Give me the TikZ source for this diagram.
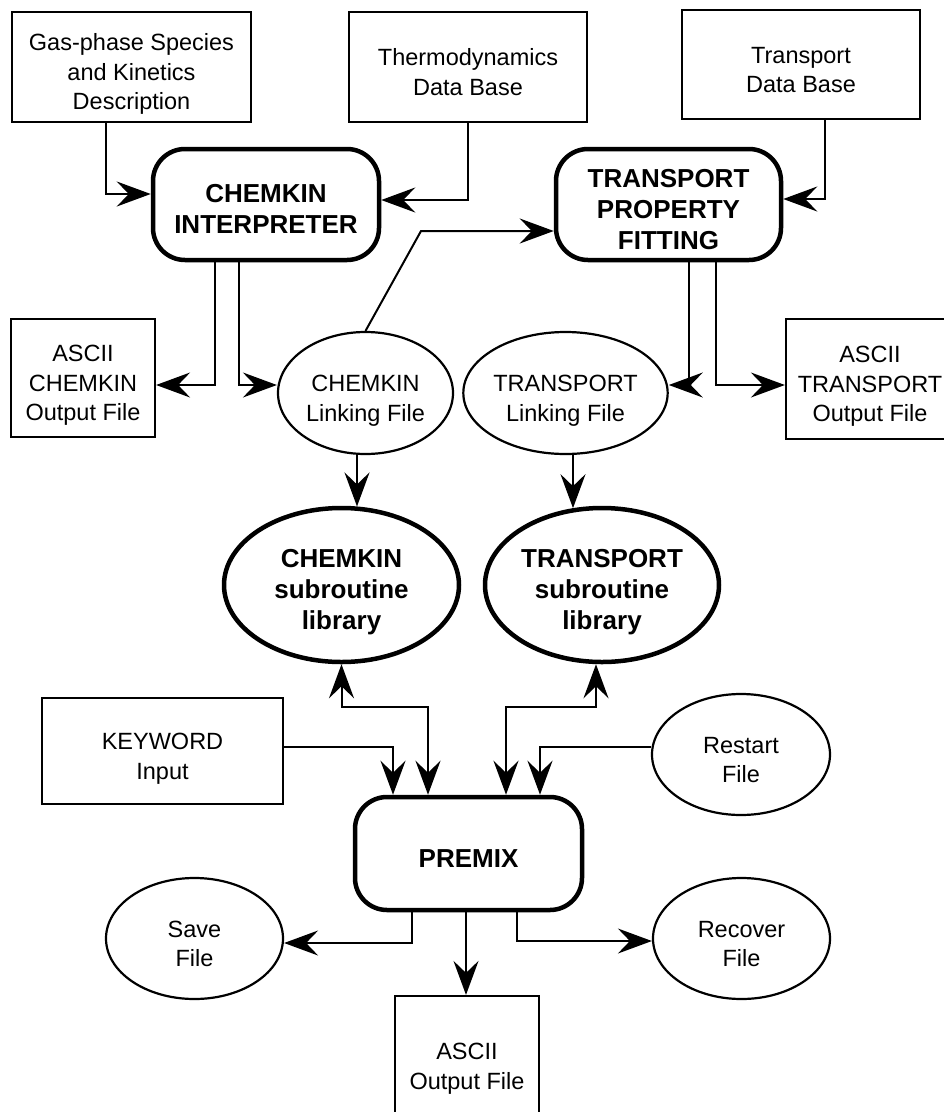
\documentclass[tikz,border=0pt]{standalone}
\usepackage{fontspec}
\setmainfont{Liberation Sans}
\usetikzlibrary{arrows.meta,shapes.geometric}
% stacked, centred lines, set a little low in their shape
\newcommand{\ntext}[1]{\raisebox{-7.5pt}[\height][\depth]{\begin{tabular}{@{}c@{}}#1\end{tabular}}}

\begin{document}
\begin{tikzpicture}[x=1pt,y=-1pt,
txt/.style={font=\fontsize{23.5}{29.5}\selectfont,inner sep=0pt},
btxt/.style={font=\fontsize{26}{31}\selectfont\bfseries,inner sep=0pt},
box/.style={txt,draw,line width=2.2pt,rectangle},
prog/.style={btxt,draw,line width=4.5pt,rounded corners=32pt},
file/.style={txt,draw,line width=2.2pt,ellipse},
lib/.style={btxt,draw,line width=4.5pt,ellipse},
barb/.tip={Stealth[length=34pt,width=25pt,inset=12pt]},
arr/.style={-barb,line width=2pt},
twoway/.style={barb-barb,line width=2pt}
]
\useasboundingbox (0,0) rectangle (944,1112);
\clip (0,0) rectangle (944,1112);

% input data
\node[box,minimum width=239pt,minimum height=110pt] (gas) at (131.5,67) {\ntext{Gas-phase Species\\and Kinetics\\Description}};
\node[box,minimum width=238pt,minimum height=110pt] (thermo) at (468,67) {\ntext{Thermodynamics\\Data Base}};
\node[box,minimum width=238pt,minimum height=109pt] (tdb) at (801,64.5) {\ntext{Transport\\Data Base}};

% preprocessors
\node[prog,minimum width=226pt,minimum height=111pt] (interp) at (266,204.5) {\ntext{CHEMKIN\\INTERPRETER}};
\node[prog,minimum width=225pt,minimum height=111pt] (fit) at (668.5,204.5) {\ntext{TRANSPORT\\PROPERTY\\FITTING}};

% linking and output files
\node[box,minimum width=144pt,minimum height=118pt] (chemout) at (83,378) {\ntext{ASCII\\CHEMKIN\\Output File}};
\node[file,minimum width=175pt,minimum height=122pt] (chemlink) at (365.5,393) {\ntext{CHEMKIN\\Linking File}};
\node[file,minimum width=175pt,minimum height=122pt] (tranlink) at (565.5,393) {\ntext{TRANSPORT\\Linking File}};
\node[box,minimum width=168pt,minimum height=120pt] (tranout) at (870,379) {\ntext{ASCII\\TRANSPORT\\Output File}};

% libraries
\node[lib,minimum width=235pt,minimum height=154pt] (chemlib) at (341.5,585) {\ntext{CHEMKIN\\subroutine\\library}};
\node[lib,minimum width=234pt,minimum height=154pt] (tranlib) at (602,585) {\ntext{TRANSPORT\\subroutine\\library}};

% flame code
\node[box,minimum width=241pt,minimum height=106pt] (keyword) at (162.5,751) {\ntext{KEYWORD\\Input}};
\node[file,minimum width=178pt,minimum height=121pt] (restart) at (741,754.5) {\ntext{Restart\\File}};
\node[prog,minimum width=227pt,minimum height=113pt] (premix) at (468.5,853.5) {\ntext{PREMIX}};
\node[file,minimum width=177pt,minimum height=121pt] (save) at (194.5,938.5) {\ntext{Save\\File}};
\node[file,minimum width=177pt,minimum height=121pt] (recover) at (741.5,938.5) {\ntext{Recover\\File}};
\node[box,minimum width=144pt,minimum height=130pt] (asciiout) at (467,1061) {\ntext{ASCII\\Output File}};

\draw[arr] ([xshift=-25.5pt]gas.south) |- ([yshift=10.5pt]interp.west);
\draw[arr] (thermo.south) |- ([yshift=4.5pt]interp.east);
\draw[arr] ([xshift=24pt]tdb.south) |- ([yshift=5.5pt]fit.east);
\coordinate (kink) at (421,231);
\draw[arr] (chemlink.north) -- (kink) -- (kink -| fit.west);

\draw[arr] ([xshift=-51pt]interp.south) |- ([yshift=-7pt]chemout.east);
\draw[arr] ([xshift=-27pt]interp.south) |- ([yshift=8pt]chemlink.west);
\draw[arr] ([xshift=20.5pt]fit.south) |- ([yshift=8pt]tranlink.east);
\draw[arr] ([xshift=47.5pt]fit.south) |- ([yshift=-6pt]tranout.west);

\draw[arr] ([xshift=-8.5pt]chemlink.south) -- ([xshift=15.5pt,yshift=-0.7pt]chemlib.north);
\draw[arr] ([xshift=7.5pt]tranlink.south) -- ([xshift=-29pt,yshift=-2.4pt]tranlib.north);

\draw[twoway] (chemlib.south) -- ++(0,43) -| ([xshift=-40.5pt]premix.north);
\draw[twoway] ([xshift=-6pt]tranlib.south) -- ++(0,43) -| ([xshift=37.5pt]premix.north);
\draw[arr] ([yshift=4pt]keyword.east) -| ([xshift=-75.5pt]premix.north);
\draw[arr] ([yshift=7.5pt]restart.west) -| ([xshift=71.5pt]premix.north);
\draw[arr] ([xshift=-56.5pt]premix.south) |- ([yshift=-4.5pt]save.east);
\draw[arr] ([xshift=-2.5pt]premix.south) -- ([xshift=-1pt]asciiout.north);
\draw[arr] ([xshift=48.5pt]premix.south) |- ([yshift=-2.5pt]recover.west);
\end{tikzpicture}
\end{document}
